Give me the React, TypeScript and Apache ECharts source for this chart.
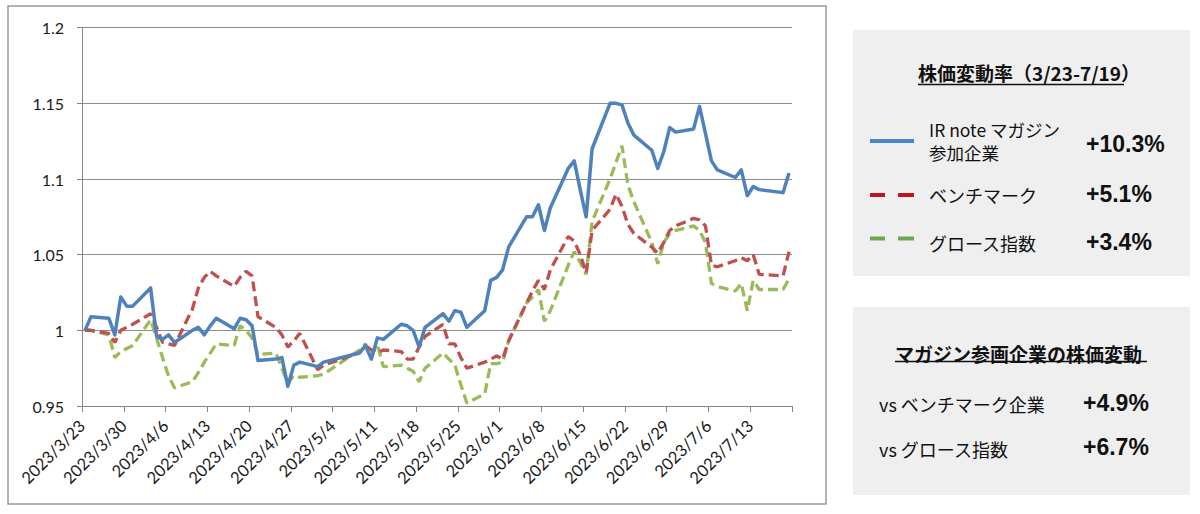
import React, { useEffect, useRef } from "react";
import * as echarts from "echarts";

// Trading days (2023)
const dates: string[] = [
  "3/23", "3/24", "3/27", "3/28", "3/29", "3/30", "3/31",
  "4/3", "4/4", "4/5", "4/6", "4/7",
  "4/10", "4/11", "4/12", "4/13", "4/14",
  "4/17", "4/18", "4/19", "4/20", "4/21",
  "4/24", "4/25", "4/26", "4/27", "4/28",
  "5/1", "5/2",
  "5/8", "5/9", "5/10", "5/11", "5/12",
  "5/15", "5/16", "5/17", "5/18", "5/19",
  "5/22", "5/23", "5/24", "5/25", "5/26",
  "5/29", "5/30", "5/31", "6/1", "6/2",
  "6/5", "6/6", "6/7", "6/8", "6/9",
  "6/12", "6/13", "6/14", "6/15", "6/16",
  "6/19", "6/20", "6/21", "6/22", "6/23",
  "6/26", "6/27", "6/28", "6/29", "6/30",
  "7/3", "7/4", "7/5", "7/6", "7/7",
  "7/10", "7/11", "7/12", "7/13", "7/14",
  "7/18", "7/19",
];

const irNote: number[] = [
  1.000, 1.009, 1.008, 0.997, 1.022, 1.016, 1.016,
  1.028, 0.996, 0.994, 0.997, 0.992,
  1.000, 1.002, 0.997, 1.003, 1.008,
  1.001, 1.008, 1.007, 1.003, 0.980,
  0.981, 0.982, 0.963, 0.977, 0.979,
  0.976, 0.979,
  0.985, 0.990, 0.981, 0.995, 0.994,
  1.004, 1.003, 1.000, 0.989, 1.002,
  1.011, 1.006, 1.013, 1.012, 1.002,
  1.013, 1.033, 1.035, 1.040, 1.055,
  1.075, 1.075, 1.083, 1.066, 1.081,
  1.107, 1.112, 1.093, 1.075, 1.120,
  1.150, 1.150, 1.149, 1.137, 1.129,
  1.119, 1.107, 1.118, 1.134, 1.131,
  1.133, 1.148, 1.130, 1.112, 1.106,
  1.101, 1.106, 1.089, 1.095, 1.093,
  1.091, 1.104,
];

const benchmark: number[] = [
  1.000, 1.000, 0.998, 0.992, 1.000, 1.002, 1.004,
  1.011, 1.002, 0.992, 0.991, 0.990,
  1.014, 1.028, 1.035, 1.039, 1.036,
  1.029, 1.035, 1.039, 1.036, 1.009,
  1.002, 0.997, 0.989, 0.993, 0.998,
  0.974, 0.977,
  0.985, 0.990, 0.987, 0.985, 0.987,
  0.986, 0.981, 0.981, 0.989, 0.996,
  1.004, 0.991, 0.991, 0.982, 0.975,
  0.979, 0.981, 0.983, 0.981, 0.993,
  1.018, 1.026, 1.033, 1.027, 1.040,
  1.062, 1.059, 1.050, 1.038, 1.066,
  1.080, 1.090, 1.082, 1.070, 1.064,
  1.055, 1.051, 1.058, 1.066, 1.069,
  1.074, 1.073, 1.069, 1.043, 1.042,
  1.046, 1.048, 1.046, 1.050, 1.037,
  1.036, 1.052,
];

const growth: number[] = [
  1.001, 1.000, 0.997, 0.982, 0.986, 0.988, 0.990,
  1.007, 0.995, 0.982, 0.970, 0.962,
  0.966, 0.972, 0.979, 0.985, 0.991,
  0.990, 1.003, 1.000, 0.995, 0.984,
  0.985, 0.975, 0.965, 0.970, 0.969,
  0.970, 0.971,
  0.987, 0.991, 0.984, 0.991, 0.976,
  0.977, 0.975, 0.973, 0.966, 0.975,
  0.985, 0.981, 0.977, 0.964, 0.952,
  0.958, 0.978, 0.978, 0.979, 0.993,
  1.018, 1.022, 1.027, 1.006, 1.013,
  1.043, 1.052, 1.045, 1.037, 1.072,
  1.100, 1.111, 1.122, 1.096, 1.085,
  1.058, 1.044, 1.058, 1.064, 1.066,
  1.069, 1.066, 1.058, 1.031, 1.029,
  1.026, 1.031, 1.013, 1.033, 1.027,
  1.027, 1.034,
];

const seriesNames = ["IR note マガジン参加企業", "ベンチマーク", "グロース指数"];
const yTicks = { min: 0.95, max: 1.2, interval: 0.05 };

const BASE = Date.UTC(2023, 2, 23);
const DAY = 86400000;
const AXIS_DAYS = 119;

function dayOffset(md: string): number {
  const [m, d] = md.split("/").map(Number);
  return (Date.UTC(2023, m - 1, d) - BASE) / DAY;
}

function toPoints(vals: number[]): [number, number][] {
  // each trading day is drawn in the middle of its day slot
  return vals.map((v, i) => [dayOffset(dates[i]) + 0.5, v]);
}

function dayLabel(v: number): string {
  if (v >= AXIS_DAYS - 0.01) return "";
  const t = new Date(BASE + Math.round(v) * DAY);
  return `${t.getUTCFullYear()}/${t.getUTCMonth() + 1}/${t.getUTCDate()}`;
}

const JP = '"Noto Sans CJK JP", "Noto Sans", sans-serif';
const NUM = '"Liberation Sans", Arial, sans-serif';

function txt(text: string, x: number, y: number, size: number, bold = false, align = "left", family = JP) {
  return {
    type: "text",
    z: 100,
    style: {
      text,
      x,
      y,
      fill: "#111",
      fontSize: size,
      fontFamily: family,
      fontWeight: bold ? "bold" : "normal",
      textAlign: align,
      textVerticalAlign: "middle",
      align,
      verticalAlign: "middle",
    },
  };
}

function hline(x1: number, x2: number, y: number, color: string, width: number, dash?: number[]) {
  return {
    type: "line",
    z: 100,
    shape: { x1, y1: y, x2, y2: y },
    style: { stroke: color, lineWidth: width, lineDash: dash },
  };
}

export default function App() {
  const ref = useRef<HTMLDivElement>(null);

  useEffect(() => {
    document.body.style.margin = "0";
    if (!ref.current) return;
    const chart = echarts.init(ref.current, undefined, { renderer: "svg" });

    const graphic: any[] = [
      {
        type: "rect",
        z: 0,
        shape: { x: 8, y: 6, width: 818, height: 498 },
        style: { fill: "none", stroke: "#9a9a9a", lineWidth: 1.5 },
      },
      { type: "rect", z: 90, shape: { x: 853, y: 30, width: 337, height: 246 }, style: { fill: "#efefef" } },
      { type: "rect", z: 90, shape: { x: 853, y: 307, width: 337, height: 188 }, style: { fill: "#efefef" } },
      // panel 1
      txt("株価変動率（3/23-7/19）", 918, 72.5, 19, true),
      hline(918, 1124, 84.5, "#111", 1.3),
      hline(870, 914, 141, "#4a86d0", 4),
      txt("IR note マガジン", 929, 129.5, 17.5),
      txt("参加企業", 929, 152.5, 17.5),
      txt("+10.3%", 1086, 143.5, 23, true, "left", NUM),
      hline(870, 885, 195, "#c0141c", 4),
      hline(898, 914, 195, "#c0141c", 4),
      txt("ベンチマーク", 929, 195, 18),
      txt("+5.1%", 1086, 193.5, 23, true, "left", NUM),
      hline(870, 885, 238.5, "#6aa84f", 4),
      hline(898, 914, 238.5, "#6aa84f", 4),
      txt("グロース指数", 929, 243, 18),
      txt("+3.4%", 1086, 241.5, 23, true, "left", NUM),
      // panel 2
      txt("マガジン参画企業の株価変動", 895, 353, 19, true),
      hline(895, 1147, 361.5, "#111", 1.3),
      txt("vs ベンチマーク企業", 879, 403.5, 18),
      txt("+4.9%", 1083, 402.5, 23, true, "left", NUM),
      txt("vs グロース指数", 879, 448.5, 18),
      txt("+6.7%", 1083, 446.5, 23, true, "left", NUM),
    ];

    const axisFont = { fontFamily: 'Lato, "Open Sans", sans-serif', fontSize: 16, color: "#1a1a1a" };

    chart.setOption({
      animation: false,
      backgroundColor: "#ffffff",
      grid: { left: 82, top: 27.7, width: 710, height: 378.3, containLabel: false },
      xAxis: {
        type: "value",
        min: 0,
        max: AXIS_DAYS,
        interval: 7,
        axisLine: { show: true, lineStyle: { color: "#868686", width: 1 } },
        axisTick: { show: true, length: 6, lineStyle: { color: "#868686" } },
        splitLine: { show: false },
        axisLabel: {
          ...axisFont,
          fontSize: 16.5,
          rotate: 45,
          margin: 17,
          showMinLabel: true,
          showMaxLabel: true,
          formatter: (v: number) => dayLabel(v),
        },
      },
      yAxis: {
        type: "value",
        min: yTicks.min,
        max: yTicks.max,
        interval: yTicks.interval,
        axisLine: { show: true, lineStyle: { color: "#868686", width: 1 } },
        axisTick: { show: true, length: 5, lineStyle: { color: "#868686" } },
        splitLine: { show: true, lineStyle: { color: "#8c8c8c", width: 1 } },
        axisLabel: {
          ...axisFont,
          margin: 18,
          formatter: (v: number) => String(Math.round(v * 100) / 100),
        },
      },
      series: [
        {
          name: seriesNames[0],
          type: "line",
          data: toPoints(irNote),
          showSymbol: false,
          symbol: "none",
          z: 4,
          lineStyle: { color: "#4f81bd", width: 3.5, join: "round" },
        },
        {
          name: seriesNames[1],
          type: "line",
          data: toPoints(benchmark),
          showSymbol: false,
          symbol: "none",
          z: 3,
          lineStyle: { color: "#c0504d", width: 3.3, type: [10, 5] },
        },
        {
          name: seriesNames[2],
          type: "line",
          data: toPoints(growth),
          showSymbol: false,
          symbol: "none",
          z: 2,
          lineStyle: { color: "#9bbb59", width: 3.3, type: [10, 5] },
        },
      ],
      graphic,
    });

    return () => chart.dispose();
  }, []);

  return <div ref={ref} style={{ width: 1200, height: 514 }} />;
}
